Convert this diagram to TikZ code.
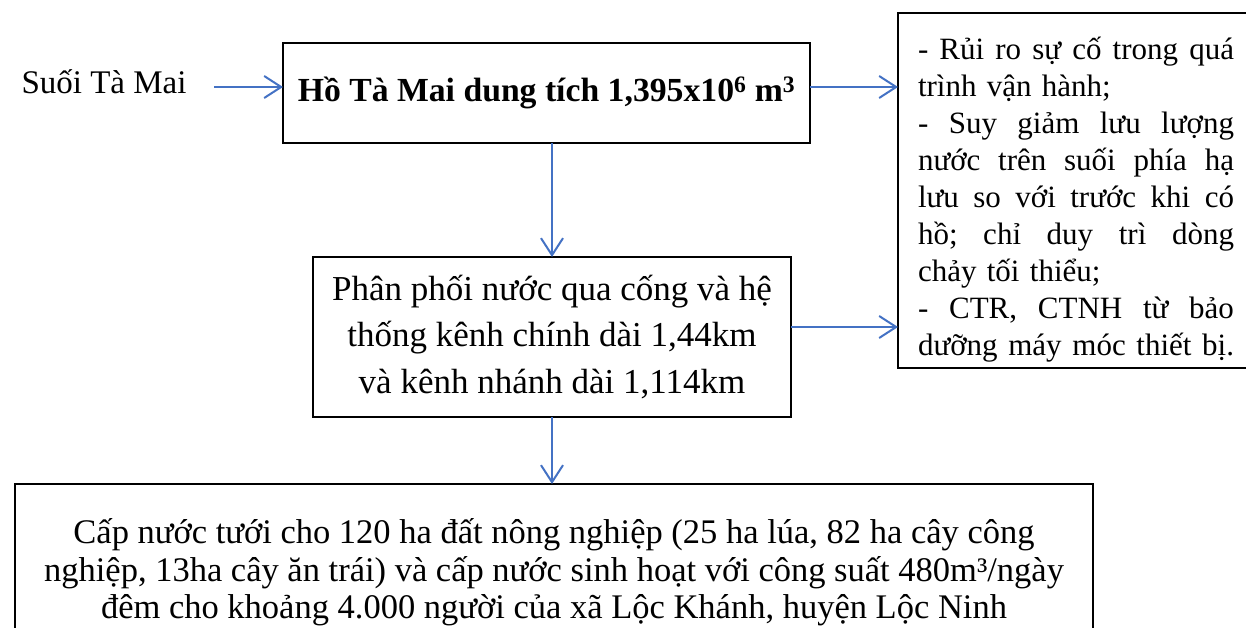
\documentclass[tikz,border=0pt]{standalone}
\usepackage{fontspec}
\setmainfont{Liberation Serif}
\usetikzlibrary{arrows.meta}
\definecolor{arrblue}{RGB}{68,114,196}
\newcommand\jline[1]{\leavevmode\hbox to 316pt{#1}}
\begin{document}
\begin{tikzpicture}[x=1pt,y=-1pt,
  box/.style={draw=black,line width=1.6pt,inner sep=0pt,outer sep=0pt},
  arr/.style={draw=arrblue,line width=2pt,-{Straight Barb[length=17pt,width=22pt,line width=2pt]}},
  ]
\useasboundingbox (0,0) rectangle (1246,628);
\node[font=\fontsize{33}{38}\selectfont,anchor=center] (suoi) at (104,82) {Suối Tà Mai};
\node[box,minimum width=527pt,minimum height=100pt,font=\fontsize{33.7}{38}\selectfont\bfseries] (ho) at (546.5,93) {Hồ Tà Mai dung tích 1,395x10\textsuperscript{6} m\textsuperscript{3}};
\node[box,minimum width=356pt,minimum height=355pt,font=\fontsize{31}{37}\selectfont,align=left,text width=316pt] (rbox) at (1076,190.5) {%
\jline{\rule{0pt}{40pt}-\hfill Rủi\hfill ro\hfill sự\hfill cố\hfill trong\hfill quá}\\
trình vận hành;\\
\jline{-\hfill Suy\hfill giảm\hfill lưu\hfill lượng}\\
\jline{nước\hfill trên\hfill suối\hfill phía\hfill hạ}\\
\jline{lưu\hfill so\hfill với\hfill trước\hfill khi\hfill có}\\
\jline{hồ;\hfill chỉ\hfill duy\hfill trì\hfill dòng}\\
chảy tối thiểu;\\
\jline{-\hfill CTR,\hfill CTNH\hfill từ\hfill bảo}\\
\jline{dưỡng\hfill máy\hfill móc\hfill thiết\hfill bị.}};
\node[box,minimum width=478pt,minimum height=160pt,font=\fontsize{35}{46.5}\selectfont,align=center] (pp) at (552,337) {Phân phối nước qua cống và hệ\\thống kênh chính dài 1,44km\\và kênh nhánh dài 1,114km};
\node[box,minimum width=1078pt,minimum height=177pt,font=\fontsize{34.5}{37.5}\selectfont,align=center] (cap) at (554,572.5) {Cấp nước tưới cho 120 ha đất nông nghiệp (25 ha lúa, 82 ha cây công\\nghiệp, 13ha cây ăn trái) và cấp nước sinh hoạt với công suất 480m³/ngày\\đêm cho khoảng 4.000 người của xã Lộc Khánh, huyện Lộc Ninh};
\draw[arr,shorten <=24pt] (suoi.east |- 0,87) -- (ho.west |- 0,87);
\draw[arr] ([yshift=6pt]ho.east) -- ([yshift=6pt]ho.east -| rbox.west);
\draw[arr] (pp.north |- ho.south) -- (pp.north);
\draw[arr] ([yshift=10pt]pp.east) -- ([yshift=10pt]pp.east -| rbox.west);
\draw[arr] (pp.south) -- (pp.south |- cap.north);
\end{tikzpicture}
\end{document}
